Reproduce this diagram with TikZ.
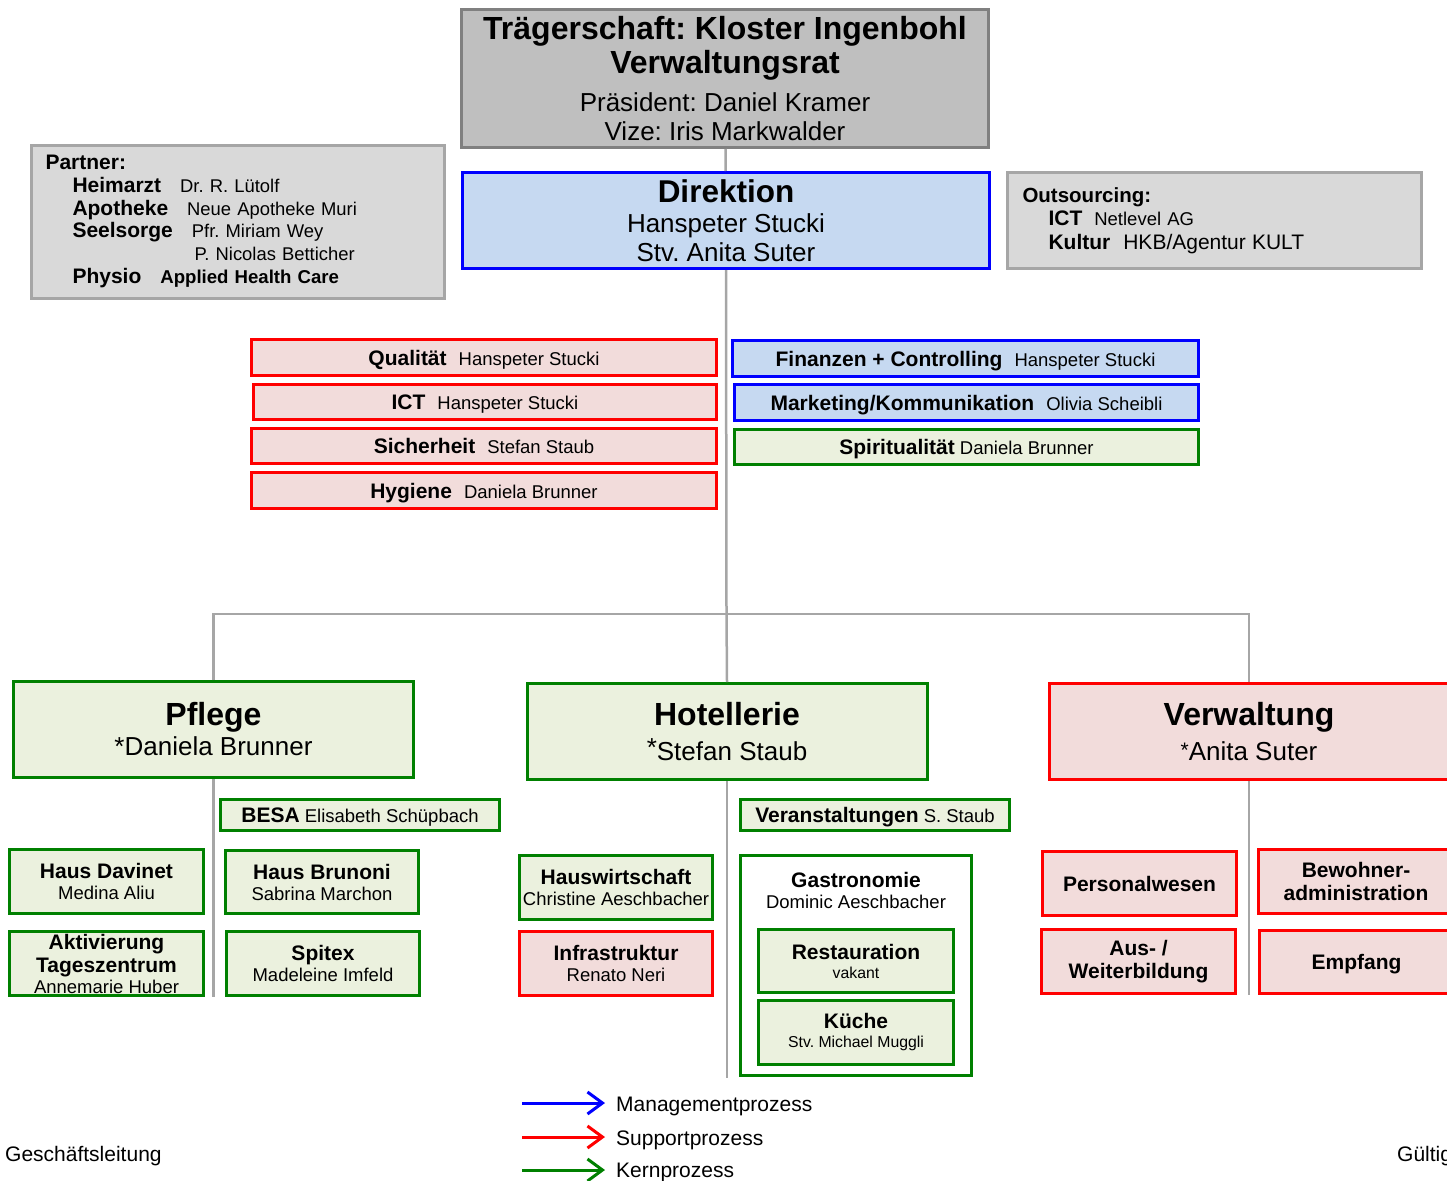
\documentclass[tikz,border=0pt]{standalone}
\usepackage{fontspec}
\setmainfont{Liberation Sans}
\usetikzlibrary{arrows.meta}
\frenchspacing
\definecolor{cgryF}{HTML}{BFBFBF}
\definecolor{cgryD}{HTML}{808080}
\definecolor{clgrF}{HTML}{D9D9D9}
\definecolor{clgrD}{HTML}{A6A6A6}
\definecolor{cbluF}{HTML}{C6D9F1}
\definecolor{cbluD}{HTML}{0000FF}
\definecolor{credF}{HTML}{F2DCDB}
\definecolor{credD}{HTML}{FF0000}
\definecolor{cgrnF}{HTML}{EBF1DE}
\definecolor{cgrnD}{HTML}{008000}
\definecolor{clink}{HTML}{A6A6A6}
\newcommand\fsz[2]{\fontsize{#1}{#2}\selectfont}
\newcommand\nolsl{\lineskiplimit=-100pt\relax}
\newcommand\bsm[1]{{\fsz{21}{21}\bfseries #1}}
\newcommand\bbg[1]{{\fsz{32}{34}\bfseries #1}}
\tikzset{
  box/.style={draw, line width=3pt, inner sep=0pt, align=center},
  gry/.style={box, draw=cgryD, fill=cgryF},
  lgry/.style={box, draw=clgrD, fill=clgrF},
  blu/.style={box, draw=cbluD, fill=cbluF},
  rd/.style={box, draw=credD, fill=credF},
  grn/.style={box, draw=cgrnD, fill=cgrnF},
  big/.style={font=\fsz{26}{29}\nolsl},
  sm/.style={font=\fsz{18.5}{21}\nolsl},
  one/.style={text height=16pt, text depth=1pt},
  mid/.style={sm, one},
  cell/.style={sm, minimum width=194, minimum height=64},
  link/.style={draw=clink, line width=2.5pt},
  legarrow/.style={line width=3pt, -{Straight Barb[length=15pt,width=22pt]}},
  legtext/.style={font=\fsz{21}{24}, anchor=base west, inner sep=0pt},
}
\begin{document}
\begin{tikzpicture}[x=1pt,y=-1pt]
\useasboundingbox (0,0) rectangle (1447,1180);
\clip (0,0) rectangle (1447,1180);

% top level
\node[gry, big, minimum width=527, minimum height=138] (top) at (725,78.5)
  {\bbg{Trägerschaft: Kloster Ingenbohl}\\[5pt]\bbg{Verwaltungsrat}\\[9pt]Präsident: Daniel Kramer\\Vize: Iris Markwalder};
\node[blu, big, minimum width=527, minimum height=96] (dir) at (726,220.5)
  {{\fsz{31.5}{34}\bfseries Direktion}\\[1pt]Hanspeter Stucki\\Stv. Anita Suter};

\node[lgry, font=\fsz{18.4}{22.7}\nolsl, align=left, text width=385pt, inner xsep=14pt, minimum height=153] (partner) at (238,221.5)
  {\bsm{Partner:}\\
   \hspace*{27pt}\bsm{Heimarzt}\hspace{19pt}Dr. R. Lütolf\\
   \hspace*{27pt}\bsm{Apotheke}\hspace{19pt}Neue Apotheke Muri\\
   \hspace*{27pt}\bsm{Seelsorge}\hspace{19pt}Pfr. Miriam Wey\\
   \hspace*{149pt}P. Nicolas Betticher\\
   \hspace*{27pt}\bsm{Physio}\hspace{19pt}{\fsz{18.6}{21}\bfseries Applied Health Care}};

\node[lgry, font=\fsz{18.5}{23.5}\nolsl, align=left, text width=384pt, inner xsep=15pt, minimum height=96] (outs) at (1214.5,220.5)
  {{\fsz{20.5}{21}\bfseries Outsourcing:}\\
   \hspace*{26pt}\bsm{ICT}\hspace{12pt}Netlevel AG\\
   \hspace*{26pt}\bsm{Kultur}\hspace{13pt}{\fsz{21}{21}HKB/Agentur KULT}};

% staff functions
\node[rd, mid, minimum width=465, minimum height=36] (qual) at (484,357.5) {\bsm{Qualität}\hspace{12pt}Hanspeter Stucki};
\node[rd, mid, minimum width=463, minimum height=35] (ict) at (485,402) {\bsm{ICT}\hspace{12pt}Hanspeter Stucki};
\node[rd, mid, minimum width=465, minimum height=35] (sich) at (484,446) {\bsm{Sicherheit}\hspace{12pt}Stefan Staub};
\node[rd, mid, minimum width=465, minimum height=36] (hyg) at (484,490.5) {\bsm{Hygiene}\hspace{12pt}Daniela Brunner};

\node[blu, mid, minimum width=466, minimum height=36] (fin) at (965.5,358.5) {\bsm{Finanzen + Controlling}\hspace{12pt}Hanspeter Stucki};
\node[blu, mid, minimum width=464, minimum height=36] (mark) at (966.5,402.5) {\bsm{Marketing/Kommunikation}\hspace{12pt}Olivia Scheibli};
\node[grn, mid, minimum width=464, minimum height=35] (spir) at (966.5,447) {\bsm{Spiritualität} Daniela Brunner};

% main departments
\node[grn, big, minimum width=400, minimum height=96] (pfl) at (213.5,729.5)
  {\bbg{Pflege}\\[1pt]*Daniela Brunner};
\node[grn, big, minimum width=400, minimum height=96] (hot) at (727,731.5)
  {\bbg{Hotellerie}\\[6pt]\raisebox{4pt}{*}Stefan Staub};
\node[rd, big, minimum width=399, minimum height=96] (ver) at (1249,731.5)
  {\bbg{Verwaltung}\\[6pt]\raisebox{3pt}{\fsz{21}{21}*}Anita Suter};

% Pflege
\node[grn, mid, minimum width=279, minimum height=31] (besa) at (360,815) {\bsm{BESA} Elisabeth Schüpbach};
\node[grn, cell] (dav) at (106.5,881.5) {\bsm{Haus Davinet}\\Medina Aliu};
\node[grn, cell, minimum width=193, minimum height=63] (bru) at (322,882) {\bsm{Haus Brunoni}\\Sabrina Marchon};
\node[grn, cell] (akt) at (106.5,963.5) {\bsm{Aktivierung}\\[2pt]\bsm{Tageszentrum}\\Annemarie Huber};
\node[grn, cell, minimum width=193] (spx) at (323,963.5) {\bsm{Spitex}\\Madeleine Imfeld};

% Hotellerie
\node[grn, mid, minimum width=269, minimum height=31] (vera) at (875,815) {\bsm{Veranstaltungen} S. Staub};
\node[grn, cell, minimum width=193] (hausw) at (616,887.5) {\bsm{Hauswirtschaft}\\Christine Aeschbacher};
\node[rd, cell, minimum width=193] (infra) at (616,963.5) {\bsm{Infrastruktur}\\Renato Neri};
\node[box, draw=cgrnD, fill=white, minimum width=231, minimum height=220] (gas) at (856,965.5) {};
\node[sm, align=center, inner sep=0pt] (gastxt) at (856,890) {\bsm{Gastronomie}\\Dominic Aeschbacher};
\node[grn, cell, minimum width=195, minimum height=63] (rest) at (856,961) {\bsm{Restauration}\\[-2pt]{\fsz{15.8}{18}vakant}};
\node[grn, cell, minimum width=195] (kue) at (856,1032.5) {\bsm{Küche}\\[-2pt]{\fsz{15.8}{18}Stv. Michael Muggli}};

% Verwaltung
\node[rd, cell, one] (pers) at (1139.5,883.5) {\bsm{Personalwesen}};
\node[rd, cell, minimum width=195] (bew) at (1356,881.5) {\bsm{Bewohner-}\\[2pt]\bsm{administration}};
\node[rd, cell] (aus) at (1138.5,961.5) {\bsm{Aus- /}\\[2pt]\bsm{Weiterbildung}};
\node[rd, cell, one, minimum height=63] (empf) at (1356.5,962) {\bsm{Empfang}};

% connectors
\coordinate (jn) at (726.5,614);
\coordinate (pe) at (213.5,997);
\coordinate (he) at (727,1078);
\coordinate (ve) at (1249,995);
\draw[link] (top) -- (dir);
\draw[link] (dir.south) -- (jn) -- (hot.north);
\draw[link] (pfl.north) |- (jn) -| (ver.north);
\draw[link] (pfl.south) -- (pe);
\draw[link] (hot.south) -- (he);
\draw[link] (ver.south) -- (ve);

% legend
\coordinate (m1) at (522,1103); \coordinate (m2) at (605,1103);
\coordinate (s1) at (522,1137); \coordinate (s2) at (605,1137);
\coordinate (k1) at (522,1170); \coordinate (k2) at (605,1170);
\draw[legarrow, draw=cbluD] (m1) -- (m2);
\draw[legarrow, draw=credD] (s1) -- (s2);
\draw[legarrow, draw=cgrnD] (k1) -- (k2);
\node[legtext] (lm) at (616,1111.5) {Managementprozess};
\node[legtext] (ls) at (616,1145) {Supportprozess};
\node[legtext] (lk) at (616,1177.5) {Kernprozess};

% footer
\node[legtext] (foot1) at (5,1161) {Geschäftsleitung};
\node[legtext] (foot2) at (1397,1161) {Gültig};
\end{tikzpicture}
\end{document}
